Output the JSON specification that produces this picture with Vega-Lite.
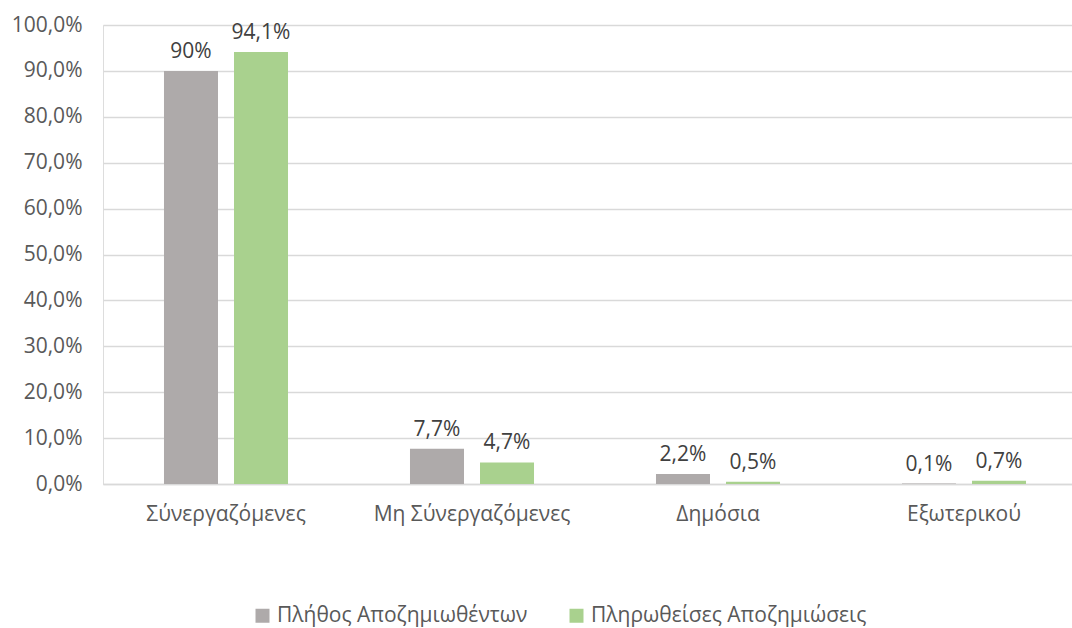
{
  "$schema": "https://vega.github.io/schema/vega-lite/v6.json",
  "autosize": {"type": "none"},
  "width": 984,
  "height": 459,
  "padding": {"left": 103, "top": 25, "right": 0, "bottom": 144},
  "background": "white",
  "data": {
    "values": [
      {"cat": "Σύνεργαζόμενες", "series": "Πλήθος Αποζημιωθέντων", "value": 90, "label": "90%"},
      {"cat": "Σύνεργαζόμενες", "series": "Πληρωθείσες Αποζημιώσεις", "value": 94.1, "label": "94,1%"},
      {"cat": "Μη Σύνεργαζόμενες", "series": "Πλήθος Αποζημιωθέντων", "value": 7.7, "label": "7,7%"},
      {"cat": "Μη Σύνεργαζόμενες", "series": "Πληρωθείσες Αποζημιώσεις", "value": 4.7, "label": "4,7%"},
      {"cat": "Δημόσια", "series": "Πλήθος Αποζημιωθέντων", "value": 2.2, "label": "2,2%"},
      {"cat": "Δημόσια", "series": "Πληρωθείσες Αποζημιώσεις", "value": 0.5, "label": "0,5%"},
      {"cat": "Εξωτερικού", "series": "Πλήθος Αποζημιωθέντων", "value": 0.1, "label": "0,1%"},
      {"cat": "Εξωτερικού", "series": "Πληρωθείσες Αποζημιώσεις", "value": 0.7, "label": "0,7%"}
    ]
  },
  "encoding": {
    "x": {
      "field": "cat", "type": "nominal", "sort": null,
      "scale": {"paddingInner": 0, "paddingOuter": 0},
      "axis": {"title": null, "labelAngle": 0, "labelFont": "Open Sans", "labelFontSize": 21, "labelColor": "#595959", "labelPadding": 19, "labelLimit": 300, "ticks": false, "domain": true, "domainColor": "#D9D9D9", "domainWidth": 1.5, "grid": false}
    },
    "xOffset": {"field": "series", "type": "nominal", "sort": null, "scale": {"paddingInner": 0.2286, "paddingOuter": 0.871}},
    "y": {
      "field": "value", "type": "quantitative",
      "scale": {"domain": [0, 100], "nice": false},
      "axis": {"title": null, "values": [0,10,20,30,40,50,60,70,80,90,100], "labelOverlap": false, "labelExpr": "replace(format(datum.value, '.1f'), '.', ',') + '%'", "labelFont": "Open Sans", "labelFontSize": 21, "labelColor": "#595959", "labelPadding": 21, "ticks": false, "domain": false, "gridColor": "#D9D9D9", "gridWidth": 1.5}
    }
  },
  "layer": [
    {
      "mark": {"type": "bar"},
      "encoding": {
        "color": {
          "field": "series", "type": "nominal", "sort": null,
          "scale": {"domain": ["Πλήθος Αποζημιωθέντων", "Πληρωθείσες Αποζημιώσεις"], "range": ["#AEAAAA", "#A9D18E"]},
          "legend": {"title": null, "orient": "none", "direction": "horizontal", "legendX": 149, "legendY": 580, "symbolType": "square", "symbolSize": 196, "symbolStrokeWidth": 0, "labelFont": "Open Sans", "labelFontSize": 21, "labelColor": "#595959", "labelOffset": 4, "labelLimit": 400, "columnPadding": 38}
        }
      }
    },
    {
      "mark": {"type": "text", "baseline": "bottom", "dy": -9, "font": "Open Sans", "fontSize": 21, "color": "#404040"},
      "encoding": {"text": {"field": "label"}}
    }
  ]
}
